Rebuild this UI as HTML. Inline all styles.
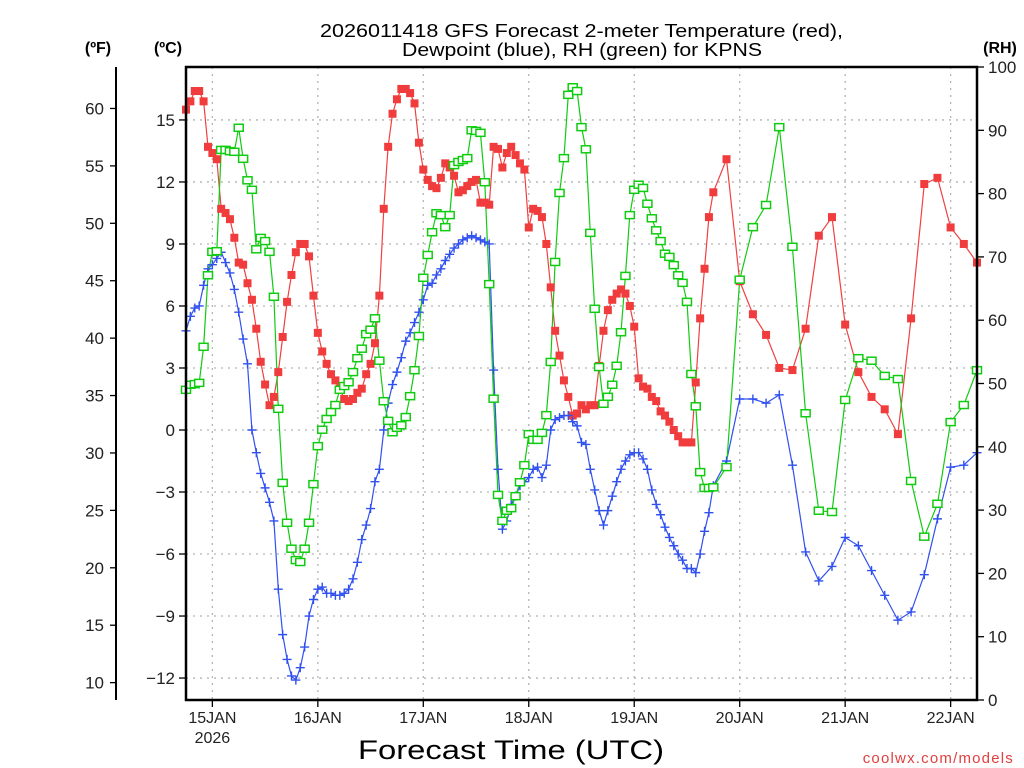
<!DOCTYPE html>
<html><head><meta charset="utf-8"><style>
html,body{margin:0;padding:0;background:#fff;}
svg{display:block;font-family:"Liberation Sans",sans-serif;}
</style></head><body>
<svg id="chart" width="1024" height="768" viewBox="0 0 1024 768" xmlns="http://www.w3.org/2000/svg">
<text x="320" y="37" textLength="523" lengthAdjust="spacingAndGlyphs" font-size="18" fill="#000">2026011418 GFS Forecast 2-meter Temperature (red),</text>
<text x="402" y="56" textLength="360" lengthAdjust="spacingAndGlyphs" font-size="18" fill="#000">Dewpoint (blue), RH (green) for KPNS</text>
<text x="98" y="53" text-anchor="middle" font-size="16" font-weight="bold">(ºF)</text>
<text x="168" y="53" text-anchor="middle" font-size="16" font-weight="bold">(ºC)</text>
<text x="1000" y="53" text-anchor="middle" font-size="16" font-weight="bold">(RH)</text>
<text x="358" y="759" textLength="306" lengthAdjust="spacingAndGlyphs" font-size="27">Forecast Time (UTC)</text>
<text x="1014" y="763" text-anchor="end" font-size="15" fill="#e04040" letter-spacing="1.2">coolwx.com/models</text>
<g id="grid"></g>
<g id="series"></g>
<g id="axes"></g>
</svg>
<script>
const cTicks=[15,12,9,6,3,0,-3,-6,-9,-12];
const cTickLabels=["15","12","9","6","3","0","\u22123","\u22126","\u22129","\u221212"];
const fTicks=[60,55,50,45,40,35,30,25,20,15,10];
const rhTicks=[0,10,20,30,40,50,60,70,80,90,100];
const dayHours=[6,30,54,78,102,126,150,174];
const dayLabels=["15JAN","16JAN","17JAN","18JAN","19JAN","20JAN","21JAN","22JAN"];

const hourlyPart=[];for(let i=0;i<=120;i++)hourlyPart.push(i);
const threeHourPart=[123,126,129,132,135,138,141,144,147,150,153,156,159,162,165,168,171,174,177,180];
const hours=hourlyPart.concat(threeHourPart);

const tempC=[15.5,15.9,16.4,16.4,15.9,13.7,13.4,13.1,10.7,10.5,10.2,9.3,8.1,8.0,7.1,6.3,4.9,3.3,2.2,1.2,
1.6,2.8,4.5,6.2,7.5,8.6,9.0,9.0,8.4,6.5,4.7,3.8,3.2,2.7,2.4,2.0,1.5,1.4,1.5,1.8,
2.0,2.7,3.2,4.2,6.5,10.7,13.7,15.3,16.0,16.5,16.5,16.3,15.8,13.9,12.6,12.1,11.8,11.7,12.2,12.9,
12.7,12.3,11.5,11.6,11.8,12.0,12.1,11.0,11.0,10.9,13.7,13.6,12.7,13.4,13.7,13.3,12.9,12.6,9.8,10.7,
10.6,10.3,9.0,6.9,4.8,3.6,2.4,1.6,0.7,0.8,1.2,1.0,1.2,1.2,3.1,4.8,5.8,6.3,6.6,6.8,
6.6,6.0,5.0,2.5,2.1,2.0,1.6,1.4,0.9,0.7,0.4,0.0,-0.3,-0.6,-0.6,-0.6,2.3,5.4,7.8,10.3,
11.5,
13.1,7.2,5.6,4.6,3.0,2.9,4.9,9.4,10.3,5.1,2.8,1.6,1.0,-0.2,5.4,11.9,12.2,9.8,9.0,8.1];

const dewC=[4.8,5.5,5.9,6.0,7.0,7.8,8.0,8.3,8.6,8.1,7.6,6.8,5.7,4.4,3.2,0.0,-1.1,-2.1,-2.8,-3.5,
-4.4,-7.7,-9.9,-11.1,-11.9,-12.1,-11.5,-10.5,-9.0,-8.2,-7.7,-7.6,-7.9,-7.9,-8.0,-8.0,-7.9,-7.7,-7.2,-6.4,
-5.3,-4.6,-3.8,-2.5,-1.9,0.0,1.3,2.2,2.8,3.5,4.3,4.7,5.2,5.7,6.3,7.0,7.1,7.5,7.8,8.2,
8.5,8.8,9.0,9.2,9.3,9.4,9.3,9.2,9.1,9.0,2.9,-1.9,-4.8,-4.4,-3.6,-3.2,-2.7,-2.5,-2.3,-1.9,
-1.8,-2.3,-1.7,0.0,0.5,0.6,0.7,0.7,0.4,0.2,-0.6,-0.7,-1.9,-2.9,-3.9,-4.6,-3.9,-3.2,-2.5,-1.9,
-1.5,-1.2,-1.1,-1.1,-1.4,-1.9,-2.9,-3.6,-4.1,-4.7,-5.2,-5.6,-6.0,-6.3,-6.7,-6.7,-6.9,-6.0,-4.9,-4.0,
-2.7,
-1.5,1.5,1.5,1.3,1.7,-1.7,-5.9,-7.3,-6.6,-5.2,-5.6,-6.8,-8.0,-9.2,-8.8,-7.0,-4.3,-1.8,-1.7,-1.1];

const rhPct=[49.0,49.8,49.9,50.1,55.8,67.1,70.8,70.9,86.9,86.9,86.7,86.6,90.4,85.5,82.1,80.6,71.2,73.0,72.5,70.8,
63.7,46.0,34.3,28.0,23.9,22.1,21.8,23.9,28.0,34.1,40.1,42.7,44.4,45.5,46.6,49.0,49.6,50.2,51.8,54.0,
55.5,57.8,58.5,60.3,53.6,47.2,44.1,42.3,43.0,43.4,44.7,48.0,52.1,57.5,66.7,70.3,73.9,76.9,76.6,74.7,
76.6,84.5,85.0,85.3,85.6,90.0,89.9,89.6,81.8,65.7,47.6,32.4,28.3,29.9,30.3,32.2,34.4,37.1,42.0,41.1,
41.1,42.2,45.0,53.4,69.2,80.1,85.6,95.6,96.8,96.2,90.5,87.0,73.8,61.8,52.6,46.8,47.9,49.8,52.8,58.1,
67.0,76.6,80.6,81.4,80.9,78.4,76.1,74.2,72.5,70.5,70.0,68.7,67.1,65.9,62.9,51.5,46.4,36.0,33.5,33.5,
33.6,
36.8,66.4,74.7,78.2,90.5,71.6,45.3,29.9,29.7,47.4,54.0,53.6,51.2,50.7,34.6,25.8,31.0,43.9,46.6,52.1];

const L=186,R=977,T=67,B=700;
const NS="http://www.w3.org/2000/svg";
function xs(h){return L+(R-L)*h/180;}
function yc(c){return 430-(c*20.67);}
function yf(f){return yc((f-32)*5/9);}
function yr(r){return B-(B-T)*r/100;}
function mk(tag,attrs,parent){const e=document.createElementNS(NS,tag);for(const k in attrs)e.setAttribute(k,attrs[k]);parent.appendChild(e);return e;}

const grid=document.getElementById('grid'),axes=document.getElementById('axes'),ser=document.getElementById('series');

cTicks.forEach((c,i)=>{
  const y=yc(c);
  const g=mk('line',{x1:L,x2:R,y1:y,y2:y,stroke:'#b4b4b4','stroke-width':1.3,'stroke-dasharray':'2,5'},grid);
  
  
  const t=mk('line',{x1:L-7,x2:L,y1:y,y2:y,stroke:'#000','stroke-width':1.3},axes);
  
  
  const tx=mk('text',{x:L-11,y:y+6,'text-anchor':'end','font-size':17,fill:'#222'},axes);
  tx.textContent=cTickLabels[i];
  
  
});
dayHours.forEach((h,i)=>{
  const x=xs(h);
  const g=mk('line',{x1:x,x2:x,y1:T,y2:B,stroke:'#b4b4b4','stroke-width':1.3,'stroke-dasharray':'2,5'},grid);
  
  
  const t=mk('line',{x1:x,x2:x,y1:B,y2:B+7,stroke:'#000','stroke-width':1.3},axes);
  
  
  const tx=mk('text',{x:x,y:B+23,'text-anchor':'middle','font-size':16,fill:'#222'},axes);
  tx.textContent=dayLabels[i];
  
  
});
const yr2026=mk('text',{x:xs(dayHours[0]),y:B+43,'text-anchor':'middle','font-size':16,fill:'#222'},axes);
yr2026.textContent="2026";



const fl=mk('line',{x1:116,x2:116,y1:T,y2:B,stroke:'#000','stroke-width':2},axes);


fTicks.forEach(f=>{
  const y=yf(f);
  const t=mk('line',{x1:110,x2:116,y1:y,y2:y,stroke:'#000','stroke-width':1.3},axes);
  
  
  const tx=mk('text',{x:104,y:y+6,'text-anchor':'end','font-size':17,fill:'#222'},axes);
  tx.textContent=String(f);
  
  
});
rhTicks.forEach(r=>{
  const y=yr(r);
  const t=mk('line',{x1:R,x2:R+7,y1:y,y2:y,stroke:'#000','stroke-width':1.3},axes);
  
  
  const tx=mk('text',{x:R+11,y:y+6,'text-anchor':'start','font-size':17,fill:'#222'},axes);
  tx.textContent=String(r);
  
  
});
const box=mk('rect',{x:L,y:T,width:R-L,height:B-T,fill:'none',stroke:'#000','stroke-width':2.5},axes);



function drawLine(vals,yfn,color,name){
  const pts=vals.map((v,i)=>xs(hours[i]).toFixed(1)+','+yfn(v).toFixed(1)).join(' ');
  const p=mk('polyline',{points:pts,fill:'none',stroke:color,'stroke-width':1.2},ser);
  
  
}
drawLine(tempC,yc,'#f04040','temperature-line');
drawLine(dewC,yc,'#3050f0','dewpoint-line');
drawLine(rhPct,yr,'#10cc10','rh-line');

tempC.forEach((v,i)=>{
  const m=mk('rect',{x:xs(hours[i])-4,y:yc(v)-4,width:8,height:8,fill:'#f03c3c'},ser);
  
  
});
dewC.forEach((v,i)=>{
  const x=xs(hours[i]),y=yc(v);
  const m=mk('path',{d:`M${x-4.5},${y}H${x+4.5}M${x},${y-4.5}V${y+4.5}`,stroke:'#3050f0','stroke-width':1.4,fill:'none'},ser);
  
  
});
rhPct.forEach((v,i)=>{
  const m=mk('rect',{x:xs(hours[i])-4.5,y:yr(v)-3.5,width:9,height:7,fill:'#fff',stroke:'#10cc10','stroke-width':1.5},ser);
  
  
});
</script>
</body></html>
